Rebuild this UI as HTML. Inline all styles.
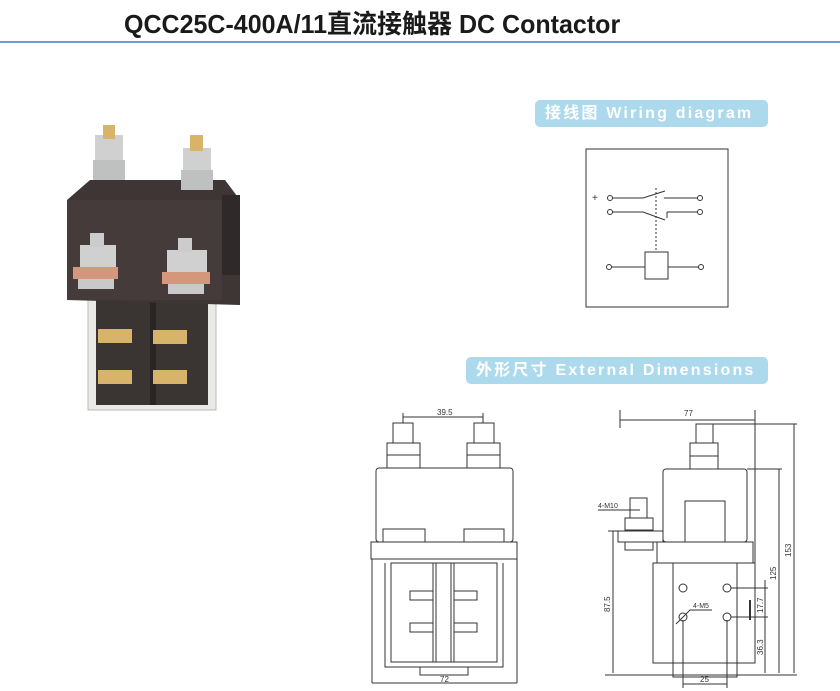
<!DOCTYPE html>
<html><head><meta charset="utf-8"><style>
body{margin:0;width:840px;height:691px;background:#fff;overflow:hidden;position:relative;font-family:"Liberation Sans","Noto Sans CJK SC",sans-serif}
.t{position:absolute;left:124px;top:4px;font-size:26px;font-weight:bold;color:#1a1a1a;white-space:nowrap;transform:scaleX(0.962);transform-origin:0 0}
.hr{position:absolute;left:0;top:41px;width:840px;height:2px;background:#6f9bd6}
.b{position:absolute;background:#acd9eb;color:#fff;font-weight:bold;border-radius:5px;font-size:16px;letter-spacing:2.2px;white-space:nowrap;line-height:27px;padding-left:10px;box-sizing:border-box;overflow:hidden}
</style></head><body>
<div class="t">QCC25C-400A/11直流接触器 DC Contactor</div>
<div class="hr"></div>
<div class="b" style="left:535px;top:100px;width:233px;height:27px">接线图 Wiring diagram</div>
<div class="b" style="left:466px;top:357px;width:302px;height:27px">外形尺寸 External Dimensions</div>
<svg width="840" height="691" style="position:absolute;left:0;top:0" font-family="Liberation Sans, sans-serif">
<g>
<rect x="88" y="285" width="128" height="125" fill="#e9e9e6" stroke="#bbb"/>
<rect x="96" y="295" width="112" height="110" fill="#3a3433"/>
<rect x="150" y="300" width="6" height="105" fill="#2a2524"/>
<path d="M67 200 L90 180 L225 180 L240 200 L240 305 L67 300 Z" fill="#3d3635"/>
<rect x="67" y="200" width="155" height="100" fill="#443b3a"/>
<rect x="222" y="195" width="18" height="80" fill="#2f2a29"/>
<rect x="95" y="135" width="28" height="25" fill="#cfd0cf"/><rect x="103" y="125" width="12" height="14" fill="#d8b46a"/>
<rect x="93" y="160" width="32" height="20" fill="#bfc0c0"/>
<rect x="183" y="148" width="28" height="22" fill="#cfd0cf"/><rect x="190" y="135" width="13" height="16" fill="#d8b46a"/>
<rect x="181" y="170" width="32" height="20" fill="#bfc0c0"/>
<rect x="80" y="245" width="36" height="22" fill="#cfd0cf"/><rect x="90" y="233" width="14" height="14" fill="#ccc"/>
<rect x="73" y="267" width="45" height="12" fill="#d5977b"/><rect x="78" y="279" width="36" height="10" fill="#c9c9c9"/>
<rect x="167" y="250" width="40" height="22" fill="#cfd0cf"/><rect x="178" y="238" width="14" height="14" fill="#ccc"/>
<rect x="162" y="272" width="48" height="12" fill="#d5977b"/><rect x="168" y="284" width="36" height="10" fill="#c9c9c9"/>
<rect x="98" y="329" width="34" height="14" fill="#d8b46a"/><rect x="98" y="370" width="34" height="14" fill="#d8b46a"/>
<rect x="153" y="330" width="34" height="14" fill="#d8b46a"/><rect x="153" y="370" width="34" height="14" fill="#d8b46a"/>
</g>
<g fill="none" stroke="#333" stroke-width="1">
<rect x="586" y="149" width="142" height="158"/>
<circle cx="610" cy="198" r="2.5"/><circle cx="610" cy="212" r="2.5"/>
<circle cx="700" cy="198" r="2.5"/><circle cx="700" cy="212" r="2.5"/>
<path d="M612 198 H643 L665 191 M664 198 H698 M612 212 H643 L665 220 M667 212 H698 M667 212 V218"/>
<path d="M656 188 V252" stroke-dasharray="2,2"/>
<rect x="645" y="252" width="23" height="27"/>
<path d="M611 267 H645 M668 267 H699"/>
<circle cx="609" cy="267" r="2.5"/><circle cx="701" cy="267" r="2.5"/>
</g>
<text x="592" y="201" font-size="10" fill="#333">+</text>
<g fill="none" stroke="#333" stroke-width="1">
<rect x="393" y="423" width="20" height="20"/><rect x="474" y="423" width="20" height="20"/>
<rect x="387" y="443" width="33" height="12"/><rect x="387" y="455" width="33" height="13"/>
<rect x="467" y="443" width="33" height="12"/><rect x="467" y="455" width="33" height="13"/>
<rect x="376" y="468" width="137" height="74" rx="3"/>
<rect x="383" y="529" width="42" height="13"/><rect x="464" y="529" width="40" height="13"/>
<rect x="371" y="542" width="146" height="17"/>
<path d="M372 559 V683 M517 559 V683"/>
<path d="M385 563 V667 H503 V563"/>
<rect x="391" y="563" width="106" height="99"/>
<path d="M433 563 V662 M436 563 V662 M451 563 V662 M454 563 V662"/>
<path d="M420 667 V675 H468 V667"/>
<rect x="410" y="591" width="23" height="9"/><rect x="410" y="623" width="23" height="9"/>
<rect x="454" y="591" width="23" height="9"/><rect x="454" y="623" width="23" height="9"/>
<path d="M403 413 V423 M483 413 V423 M403 417 H483 M372 683 H517"/>
</g>
<text x="437" y="415" font-size="8" fill="#333">39.5</text>
<text x="440" y="682" font-size="8" fill="#333">72</text>
<g fill="none" stroke="#333" stroke-width="1">
<rect x="696" y="424" width="17" height="19"/>
<rect x="690" y="443" width="28" height="13"/><rect x="690" y="456" width="28" height="13"/>
<rect x="663" y="469" width="84" height="73" rx="3"/>
<rect x="685" y="501" width="40" height="41"/>
<rect x="630" y="498" width="17" height="20"/>
<rect x="625" y="518" width="28" height="12"/><rect x="618" y="531" width="45" height="11"/><rect x="625" y="542" width="28" height="8"/>
<path d="M657 542 H753 V563 M657 542 V563"/>
<rect x="653" y="563" width="102" height="100"/>
<rect x="673" y="563" width="64" height="114"/>
<circle cx="683" cy="588" r="4"/><circle cx="727" cy="588" r="4"/>
<circle cx="683" cy="617" r="4"/><circle cx="727" cy="617" r="4"/>
<path d="M620 410 V428 M755 410 V563 M620 420 H755"/>
<path d="M713 424 H797 M747 469 H782 M794 424 V673 M779 469 V673"/>
<path d="M608 531 H630 M613 531 V673 M605 675 H797"/>
<path d="M731 588 H768 M731 617 H768 M765 580 V673"/>
<path d="M683 620 V688 M727 620 V688 M683 684 H727"/>
<path d="M676 624 L690 610 H712 M598 510 H640"/>
<path d="M750 600 V620" stroke-width="2"/>
</g>
<g font-size="8" fill="#333">
<text x="684" y="416">77</text>
<text x="598" y="508" font-size="7">4-M10</text>
<text x="693" y="608" font-size="7">4-M5</text>
<text x="700" y="682">25</text>
<text transform="translate(610,612) rotate(-90)">87.5</text>
<text transform="translate(776,580) rotate(-90)">125</text>
<text transform="translate(791,557) rotate(-90)">153</text>
<text transform="translate(763,613) rotate(-90)">17.7</text>
<text transform="translate(763,655) rotate(-90)">36.3</text>
</g>
</svg>
</body></html>
